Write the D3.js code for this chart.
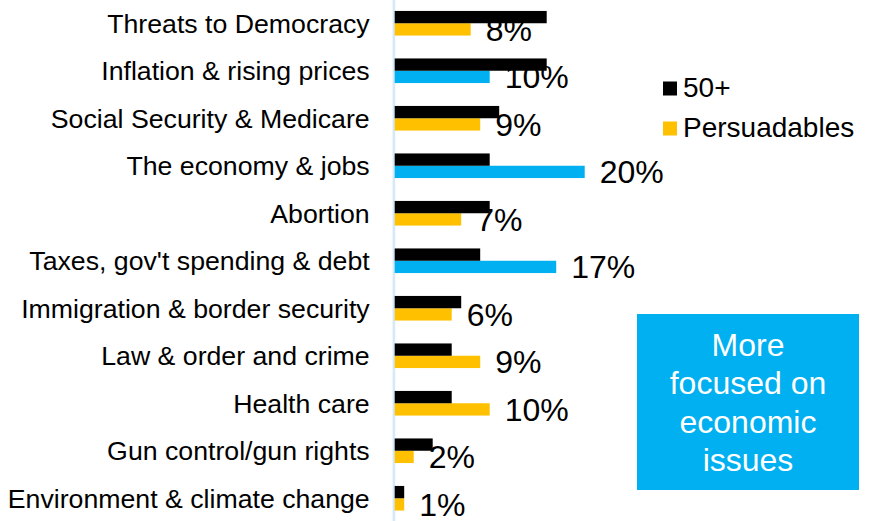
<!DOCTYPE html>
<html>
<head>
<meta charset="utf-8">
<script src="https://cdn.jsdelivr.net/npm/d3@7"></script>
<style>
body { margin: 0; background: #fff; }
text { font-family: "Liberation Sans", Arial, sans-serif; }
</style>
</head>
<body>
<svg width="871" height="521"></svg>
<script>
// data
var categories = ["Threats to Democracy", "Inflation & rising prices", "Social Security & Medicare",
  "The economy & jobs", "Abortion", "Taxes, gov't spending & debt", "Immigration & border security",
  "Law & order and crime", "Health care", "Gun control/gun rights", "Environment & climate change"];
var over50 = [16, 16, 11, 10, 10, 9, 7, 6, 6, 4, 1];
var persuadables = [8, 10, 9, 20, 7, 17, 6, 9, 10, 2, 1];
var highlighted = ["Inflation & rising prices", "The economy & jobs", "Taxes, gov't spending & debt"];
var seriesNames = ["50+", "Persuadables"];
var boxLines = ["More", "focused on", "economic", "issues"];

var data = categories.map(function(c, i) {
  return {cat: c, a: over50[i], b: persuadables[i]};
});

var svg = d3.select("svg");
var left = 394.7;

var y = d3.scaleBand().domain(categories).range([-0.5, 522]).padding(0);
var y1 = d3.scaleBand().domain(seriesNames).range([0, y.bandwidth()])
  .paddingInner(0).paddingOuter(0.93);
var x = d3.scaleLinear().domain([0, 20]).range([0, 190]);

var g = svg.append("g").attr("transform", "translate(" + left + ",0)");

// axis with category labels
var axis = g.append("g")
  .call(d3.axisLeft(y).tickSize(0).tickPadding(25));
axis.select(".domain").attr("stroke", "#d5e9f7").attr("stroke-width", 2.6)
  .attr("transform", "translate(-1.3,0)");
axis.selectAll("text")
  .attr("font-size", 26.7)
  .attr("fill", "#000")
  .attr("dy", "0.35em")
  .style("font-family", "'Liberation Sans', Arial, sans-serif");

// persuadables bars
g.selectAll(".bar-b")
  .data(data)
  .enter().append("rect")
  .attr("class", "bar-b")
  .attr("x", 0)
  .attr("y", function(d) { return y(d.cat) + y1("Persuadables"); })
  .attr("width", function(d) { return x(d.b); })
  .attr("height", y1.bandwidth())
  .attr("fill", function(d) { return highlighted.indexOf(d.cat) >= 0 ? "#00b0f0" : "#ffc000"; });

// value labels (sit under the black bars)
g.selectAll(".lbl")
  .data(data)
  .enter().append("text")
  .attr("class", "lbl")
  .attr("x", function(d) { return x(d.b) + 15; })
  .attr("y", function(d) { return y(d.cat) + y1("Persuadables") + y1.bandwidth() / 2; })
  .attr("dy", "0.35em")
  .attr("font-size", 32)
  .text(function(d) { return d.b + "%"; });

// 50+ bars
g.selectAll(".bar-a")
  .data(data)
  .enter().append("rect")
  .attr("class", "bar-a")
  .attr("x", 0)
  .attr("y", function(d) { return y(d.cat) + y1("50+"); })
  .attr("width", function(d) { return x(d.a); })
  .attr("height", y1.bandwidth())
  .attr("fill", "#000");

// legend
var legend = svg.append("g").attr("transform", "translate(663,0)");
var legendColors = ["#000", "#ffc000"];
seriesNames.forEach(function(s, i) {
  var base = 97 + i * 40;
  legend.append("rect")
    .attr("x", 0).attr("y", base - 15.5)
    .attr("width", 14).attr("height", 14)
    .attr("fill", legendColors[i]);
  legend.append("text")
    .attr("x", 20).attr("y", base)
    .attr("font-size", 28)
    .text(s);
});

// callout box
var box = svg.append("g");
box.append("rect")
  .attr("x", 637).attr("y", 314)
  .attr("width", 222).attr("height", 176)
  .attr("fill", "#00b0f0");
box.selectAll("text")
  .data(boxLines)
  .enter().append("text")
  .attr("x", 748)
  .attr("y", function(d, i) { return 356 + i * 38.3; })
  .attr("text-anchor", "middle")
  .attr("font-size", 32)
  .attr("fill", "#fff")
  .text(function(d) { return d; });
</script>
</body>
</html>
